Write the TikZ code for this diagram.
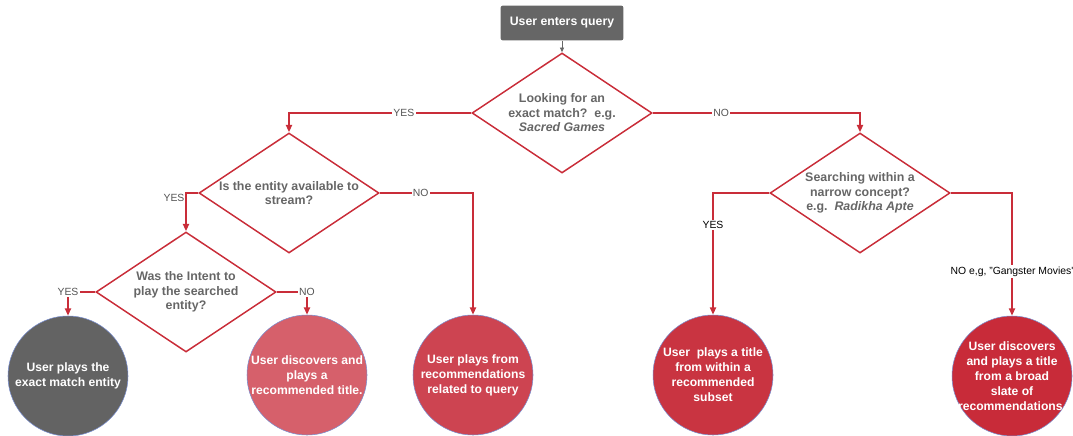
\documentclass[tikz,border=0pt]{standalone}
\usepackage{fontspec}
\setmainfont{Liberation Sans}
\usetikzlibrary{shapes.geometric,arrows.meta}
\definecolor{flowred}{HTML}{C92D39}
\definecolor{boxgray}{HTML}{666666}
\definecolor{textgray}{HTML}{666666}
\definecolor{labelgray}{HTML}{555555}
\definecolor{rimblue}{HTML}{7A8FD0}
\definecolor{outA}{HTML}{636363}
\definecolor{outB}{HTML}{D6606B}
\definecolor{outC}{HTML}{CD4451}
\definecolor{outD}{HTML}{C93441}
\definecolor{outE}{HTML}{C82B39}
\begin{document}
\begin{tikzpicture}[x=0.75pt,y=-0.75pt,>={Triangle[length=5.5pt,width=4.5pt]},
    startbox/.style={rectangle,rounded corners=1.5pt,fill=boxgray,text=white,
        font=\fontsize{9.2}{11}\selectfont\bfseries,minimum width=92pt,minimum height=26pt},
    question/.style={diamond,aspect=1.5,draw=flowred,line width=1.1pt,text=textgray,
        font=\fontsize{9.3}{10.9}\selectfont\bfseries,align=center,inner sep=0pt,
        minimum width=135pt,minimum height=90pt},
    outcome/.style={circle,draw=rimblue,line width=0.4pt,minimum size=90pt,inner sep=0pt},
    outtext/.style={text=white,font=\fontsize{9.1}{11.2}\selectfont\bfseries,align=center,inner sep=0pt},
    flow/.style={->,draw=flowred,line width=1.4pt},
    answer/.style={font=\fontsize{7.8}{9}\selectfont,text=labelgray,fill=white,inner sep=1pt}]
\useasboundingbox (0,0) rectangle (1073,435);

\node[startbox] (query) at (562,23) {User enters query};
\node[question] (exact) at (562,113) {Looking for an\\exact match?\ \ e.g.\\\textit{Sacred Games}};
\node[question] (stream) at (289,193) {Is the entity available to\\stream?};
\node[question] (narrow) at (860,193) {Searching within a\\narrow concept?\\e.g.\ \ \textit{Radikha Apte}};
\node[question] (intent) at (186,292) {Was the Intent to\\play the searched\\entity?};

\node[outcome,fill=outA,label={[outtext]center:User plays the\\exact match entity}] (playexact) at (68,376) {};
\node[outcome,fill=outB,label={[outtext]center:User discovers and\\plays a\\recommended title.}] (discover) at (307,375) {};
\node[outcome,fill=outC,label={[outtext]center:User plays from\\recommendations\\related to query}] (related) at (473,375) {};
\node[outcome,fill=outD,label={[outtext]center:User\ \ plays a title\\from within a\\recommended\\subset}] (subset) at (713,375) {};
\node[outcome,fill=outE,label={[outtext]center:User discovers\\and plays a title\\from a broad\\slate of\\recommendations.}] (broad) at (1012,376) {};

\draw[->,draw=boxgray,line width=0.6pt,>={Triangle[length=3.5pt,width=3pt]}] (query) -- (exact);
\draw[flow] (exact.west) -| node[answer,pos=0.185]{YES} (stream.north);
\draw[flow] (exact.east) -| node[answer,pos=0.165]{NO} (narrow.north);
\draw[flow] (stream.west) -| node[answer,pos=0.5,anchor=north east,inner sep=0.5pt,fill=none]{YES} (intent.north);
\draw[flow] (stream.east) -| node[answer,pos=0.22]{NO} (related.north);
\draw[flow] (intent.west) -| node[answer,pos=0.5]{YES} (playexact.north);
\draw[flow] (intent.east) -| node[answer,pos=0.5]{NO} (discover.north);
\draw[flow] (narrow.west) -| node[answer,text=black,pos=0.63]{YES} (subset.north);
\draw[flow] (narrow.east) -| node[answer,text=black,pos=0.82]{NO e,g, "Gangster Movies\textquotesingle} (broad.north);
\end{tikzpicture}
\end{document}
